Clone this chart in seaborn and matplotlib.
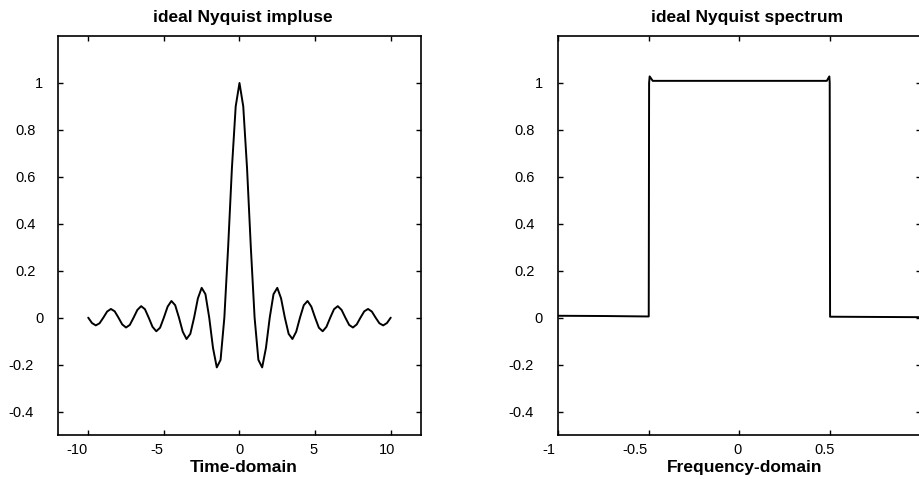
import matplotlib
matplotlib.use("Agg")
import matplotlib.pyplot as plt
import seaborn as sns
from matplotlib.transforms import ScaledTranslation

# ---- impulse response (time domain) ----
time_s = [
    -10.0, -9.75, -9.5, -9.25, -9.0, -8.75, -8.5, -8.25, -8.0, -7.75,
    -7.5, -7.25, -7.0, -6.75, -6.5, -6.25, -6.0, -5.75, -5.5, -5.25,
    -5.0, -4.75, -4.5, -4.25, -4.0, -3.75, -3.5, -3.25, -3.0, -2.75,
    -2.5, -2.25, -2.0, -1.75, -1.5, -1.25, -1.0, -0.75, -0.5, -0.25,
    0.0,
    0.25, 0.5, 0.75, 1.0, 1.25, 1.5, 1.75, 2.0, 2.25, 2.5,
    2.75, 3.0, 3.25, 3.5, 3.75, 4.0, 4.25, 4.5, 4.75, 5.0,
    5.25, 5.5, 5.75, 6.0, 6.25, 6.5, 6.75, 7.0, 7.25, 7.5,
    7.75, 8.0, 8.25, 8.5, 8.75, 9.0, 9.25, 9.5, 9.75, 10.0,
]
impulse = [
    0.0, -0.023, -0.033, -0.024, 0.0, 0.026, 0.037, 0.027, 0.0, -0.029,
    -0.042, -0.031, 0.0, 0.033, 0.049, 0.036, 0.0, -0.039, -0.058, -0.043,
    0.0, 0.047, 0.071, 0.053, 0.0, -0.060, -0.091, -0.069, 0.0, 0.082,
    0.127, 0.100, 0.0, -0.129, -0.212, -0.180, 0.0, 0.300, 0.637, 0.900,
    1.0,
    0.900, 0.637, 0.300, 0.0, -0.180, -0.212, -0.129, 0.0, 0.100, 0.127,
    0.082, 0.0, -0.069, -0.091, -0.060, 0.0, 0.053, 0.071, 0.047, 0.0,
    -0.043, -0.058, -0.039, 0.0, 0.036, 0.049, 0.033, 0.0, -0.031, -0.042,
    -0.029, 0.0, 0.027, 0.037, 0.026, 0.0, -0.024, -0.033, -0.023, 0.0,
]

# ---- magnitude spectrum (frequency domain) ----
freq = [-1.0, -0.75, -0.499, -0.497, -0.494, -0.477, 0.0,
        0.481, 0.495, 0.497, 0.499, 0.75, 1.0]
spectrum = [0.008, 0.007, 0.005, 1.0, 1.028, 1.009, 1.009,
            1.009, 1.028, 1.0, 0.004, 0.003, 0.002]

y_ticks = [-0.4, -0.2, 0, 0.2, 0.4, 0.6, 0.8, 1]
y_labels = ["-0.4", "-0.2", "0", "0.2", "0.4", "0.6", "0.8", "1"]
t_ticks = [-10, -5, 0, 5, 10]
t_labels = ["-10", "-5", "0", "5", "10"]
f_ticks = [-1, -0.5, 0, 0.5, 1]
f_labels = ["-1", "-0.5", "0", "0.5", "1"]

sns.set_style("ticks")
plt.rcParams["font.family"] = ["Liberation Sans", "DejaVu Sans"]
plt.rcParams["axes.unicode_minus"] = False
for key in ("text.color", "axes.labelcolor", "xtick.color", "ytick.color",
            "axes.edgecolor"):
    plt.rcParams[key] = "black"

fig = plt.figure(figsize=(9.2, 4.83), dpi=100)
ax1 = fig.add_axes([0.063, 0.0994, 0.3946, 0.826])
ax2 = fig.add_axes([0.6062, 0.0994, 0.3950, 0.826])

sns.lineplot(x=time_s, y=impulse, ax=ax1, color="black", linewidth=1.4,
             estimator=None, sort=False)
sns.lineplot(x=freq, y=spectrum, ax=ax2, color="black", linewidth=1.4,
             estimator=None, sort=False)

panels = [
    (ax1, "ideal Nyquist impluse", "Time-domain", (-12, 12), t_ticks, t_labels),
    (ax2, "ideal Nyquist spectrum", "Frequency-domain", (-1, 1), f_ticks, f_labels),
]
for ax, title, xlabel, xlim, xt, xl in panels:
    ax.set_xlim(*xlim)
    ax.set_ylim(-0.5, 1.2)
    ax.set_xticks(xt)
    ax.set_xticklabels(xl)
    ax.set_yticks(y_ticks)
    ax.set_yticklabels(y_labels)
    for sp in ax.spines.values():
        sp.set_visible(True)
        sp.set_linewidth(1.2)
        sp.set_color("black")
    ax.tick_params(axis="both", direction="in", length=3.5, width=1.0,
                   top=True, right=True, labelsize=10.5, colors="black")
    ax.tick_params(axis="y", pad=10.5)
    ax.tick_params(axis="x", pad=6)
    ax.set_title(title, fontsize=12.5, fontweight="bold", pad=10,
                 color="black")
    ax.set_xlabel(xlabel, fontsize=12.5, fontweight="bold", labelpad=2,
                  color="black")
    ax.set_ylabel("")

ax1.title.set_x(0.51)
ax1.xaxis.label.set_x(0.512)
ax2.title.set_x(0.522)
ax2.xaxis.label.set_x(0.514)

fig.canvas.draw()


def shift(label, dx):
    label.set_transform(label.get_transform() +
                        ScaledTranslation(dx / 100.0, 0, fig.dpi_scale_trans))


# horizontal nudges of the tick labels, in pixels
for ax, offsets in ((ax1, [-11, -7, 0, -2, -4]), (ax2, [-8.5, -14, -1.5, -6, 2])):
    for lab, dx in zip(ax.get_xticklabels(), offsets):
        shift(lab, dx)
    for lab in ax.get_yticklabels():
        txt = lab.get_text()
        if txt.startswith("-"):
            shift(lab, -9.5)
        elif "." in txt:
            shift(lab, -8)

fig.savefig("out.png", dpi=100, facecolor="white")
